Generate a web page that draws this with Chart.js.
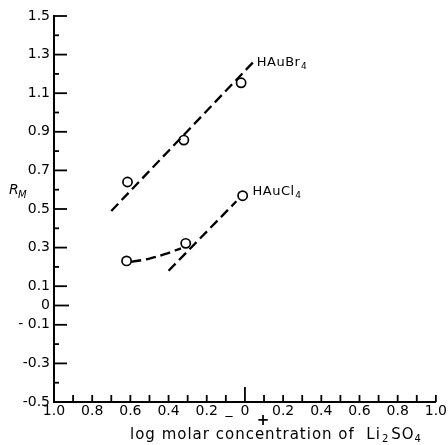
<!DOCTYPE html>
<html><head><meta charset="utf-8">
<script src="https://cdn.jsdelivr.net/npm/chart.js@4"></script>
<style>html,body{margin:0;padding:0;background:#fff}#wrap{width:448px;height:445px}</style>
</head><body><div id="wrap"><canvas id="c" width="448" height="445"></canvas></div>
<script>
// Data
const brPointsX = [-0.615, -0.32, -0.02];
const brPointsY = [0.64, 0.857, 1.154];
const brLineX = [-0.70, 0.056];
const brLineY = [0.49, 1.274];
const clPointsX = [-0.62, -0.31, -0.012];
const clPointsY = [0.231, 0.322, 0.569];
const clCurveX = [-0.595, -0.50, -0.42, -0.335];
const clCurveY = [0.226, 0.243, 0.266, 0.296];
const clLineX = [-0.40, -0.045];
const clLineY = [0.18, 0.54];
const yLabelValues = [1.5, 1.3, 1.1, 0.9, 0.7, 0.5, 0.3, 0.1, 0, -0.1, -0.3, -0.5];
const yLabelTexts = ['1.5', '1.3', '1.1', '0.9', '0.7', '0.5', '0.3', '0.1', '0', '- 0.1', '-0.3', '-0.5'];
const xLabelValues = [-1, -0.8, -0.6, -0.4, -0.2, 0, 0.2, 0.4, 0.6, 0.8, 1];
const xLabelTexts = ['1.0', '0.8', '0.6', '0.4', '0.2', '0', '0.2', '0.4', '0.6', '0.8', '1.0'];
const seriesNames = ['HAuBr', 'HAuCl'];
const xTitleMain = 'log molar concentration of  Li';

const zip = (xs, ys) => xs.map((x, i) => ({x, y: ys[i]}));
const FONT = '"DejaVu Sans", sans-serif';

const dashed = {
  showLine: true, borderColor: '#000', borderWidth: 2.3, borderDash: [10, 5],
  pointRadius: 0, fill: false, backgroundColor: '#000'
};
const circles = {
  showLine: false, pointStyle: 'circle', pointRadius: 4.6, pointBorderWidth: 1.7,
  borderColor: '#000', pointBorderColor: '#000', pointBackgroundColor: '#fff', backgroundColor: '#fff'
};

const decor = {
  id: 'decor',
  afterDraw(chart) {
    const ctx = chart.ctx, xs = chart.scales.x, ys = chart.scales.y;
    const x0 = xs.left, y0 = ys.bottom;
    ctx.save();
    ctx.strokeStyle = '#000'; ctx.lineWidth = 1.8; ctx.lineCap = 'butt';
    // y inside ticks
    for (let i = -4; i <= 15; i++) {
      const v = i / 10, py = ys.getPixelForValue(v);
      let len = (Math.abs(i) % 2 === 1) ? 13 : 5;
      if (i === 0) len = 15;
      ctx.beginPath(); ctx.moveTo(x0, py); ctx.lineTo(x0 + len, py); ctx.stroke();
    }
    // x inside ticks
    for (let i = -9; i <= 10; i++) {
      const v = i / 10, px = xs.getPixelForValue(v);
      const len = i === 0 ? 15 : 7;
      ctx.beginPath(); ctx.moveTo(px, y0); ctx.lineTo(px, y0 - len); ctx.stroke();
    }
    ctx.fillStyle = '#000';
    ctx.textBaseline = 'middle';
    // minus / plus around zero
    const pz = xs.getPixelForValue(0);
    ctx.font = '14px ' + FONT; ctx.textAlign = 'center';
    ctx.fillText('_', pz - 16, y0 + 8);
    ctx.font = 'bold 15px ' + FONT;
    ctx.fillText('+', pz + 18, y0 + 19);
    // x title with subscripts
    ctx.textAlign = 'left';
    ctx.font = '15px ' + FONT;
    ctx.letterSpacing = '1px';
    let tx = 130, ty = 435;
    ctx.fillText(xTitleMain, tx, ty); tx += ctx.measureText(xTitleMain).width + 1;
    ctx.font = '10px ' + FONT; ctx.fillText('2', tx, ty + 4); tx += ctx.measureText('2').width + 2;
    ctx.font = '15px ' + FONT; ctx.fillText('SO', tx, ty); tx += ctx.measureText('SO').width;
    ctx.font = '10px ' + FONT; ctx.fillText('4', tx, ty + 4);
    ctx.letterSpacing = '0px';
    // R_M
    ctx.font = 'italic 14px ' + FONT;
    ctx.fillText('R', 9, 190);
    ctx.font = 'italic 10px ' + FONT;
    ctx.fillText('M', 18, 195);
    // series labels
    const drawName = (name, sub, x, y) => {
      ctx.font = '13px ' + FONT; ctx.textAlign = 'left';
      ctx.letterSpacing = '0.5px';
      ctx.fillText(name, x, y);
      const w = ctx.measureText(name).width;
      ctx.font = '9px ' + FONT;
      ctx.fillText(sub, x + w + 0.5, y + 4);
      ctx.letterSpacing = '0px';
    };
    drawName(seriesNames[0], '4', xs.getPixelForValue(0.062), ys.getPixelForValue(1.26));
    drawName(seriesNames[1], '4', xs.getPixelForValue(0.04), ys.getPixelForValue(0.59));
    ctx.restore();
  }
};

new Chart(document.getElementById('c'), {
  type: 'scatter',
  data: {
    datasets: [
      Object.assign({label: 'HAuBr4 fit', data: zip(brLineX, brLineY)}, dashed),
      Object.assign({label: 'HAuCl4 curve', data: zip(clCurveX, clCurveY), tension: 0.4}, dashed),
      Object.assign({label: 'HAuCl4 fit', data: zip(clLineX, clLineY)}, dashed),
      Object.assign({label: 'HAuBr4', data: zip(brPointsX, brPointsY)}, circles),
      Object.assign({label: 'HAuCl4', data: zip(clPointsX, clPointsY)}, circles)
    ]
  },
  options: {
    responsive: false, animation: false,
    layout: {padding: {top: 16, right: 12, left: 0, bottom: 0}},
    plugins: {legend: {display: false}, tooltip: {enabled: false}},
    scales: {
      x: {
        type: 'linear', min: -1, max: 1,
        grid: {display: false, drawTicks: false},
        border: {display: true, color: '#000', width: 2},
        afterBuildTicks: s => { s.ticks = xLabelValues.map(v => ({value: v})); },
        afterFit: s => { s.height = 43; },
        ticks: {
          padding: 1, color: '#000', font: {family: FONT, size: 14}, maxRotation: 0, autoSkip: false,
          callback: (v) => { const i = xLabelValues.findIndex(t => Math.abs(t - v) < 1e-6); return i >= 0 ? xLabelTexts[i] : ''; }
        }
      },
      y: {
        type: 'linear', min: -0.5, max: 1.5,
        grid: {display: false, drawTicks: false},
        border: {display: true, color: '#000', width: 2},
        afterBuildTicks: s => { s.ticks = yLabelValues.map(v => ({value: v})); },
        afterFit: s => { s.width = 54; },
        ticks: {
          padding: 4, color: '#000', font: {family: FONT, size: 14}, autoSkip: false,
          callback: (v) => { const i = yLabelValues.findIndex(t => Math.abs(t - v) < 1e-6); return i >= 0 ? yLabelTexts[i] : ''; }
        }
      }
    }
  },
  plugins: [decor]
});
</script>
</body></html>
